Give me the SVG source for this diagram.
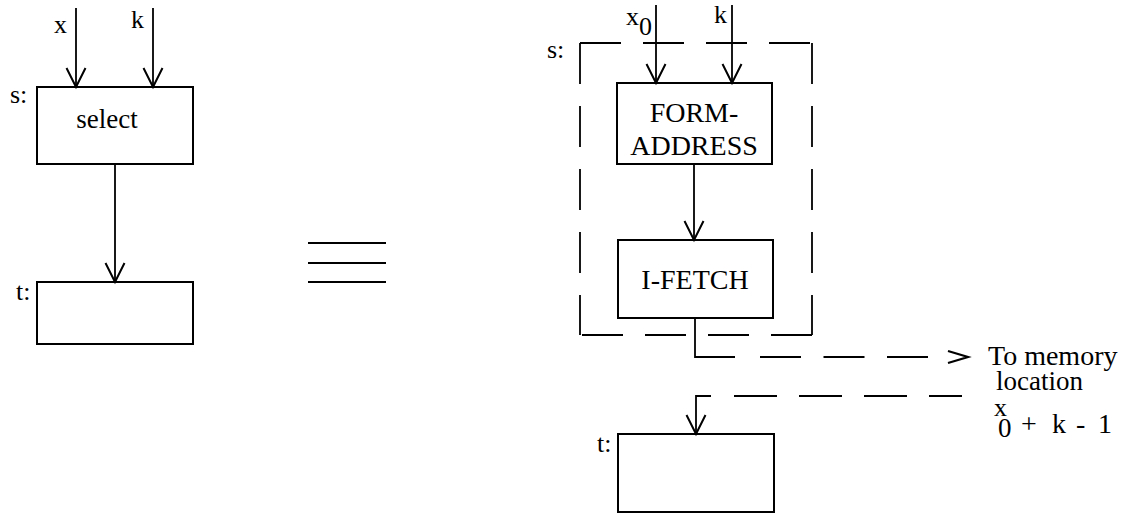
<svg xmlns="http://www.w3.org/2000/svg" width="1132" height="517" viewBox="0 0 1132 517">
<style>
.box{fill:none;stroke:#000;stroke-width:2}
.ln{fill:none;stroke:#000;stroke-width:1.8}
.dash{fill:none;stroke:#000;stroke-width:1.8;stroke-dasharray:41 22}
.t{font-family:"Liberation Serif","Times New Roman",serif;fill:#000}
</style>
<defs>
<marker id="v" markerUnits="userSpaceOnUse" markerWidth="26" markerHeight="26" viewBox="-22 -13 26 26" refX="0" refY="0" orient="auto">
<path d="M-19,-9.5 L0,0 L-19,9.5" fill="none" stroke="#000" stroke-width="2"/>
</marker>
<marker id="v2" markerUnits="userSpaceOnUse" markerWidth="26" markerHeight="26" viewBox="-22 -13 26 26" refX="0" refY="0" orient="auto">
<path d="M-20,-6 L0,0 L-20,6" fill="none" stroke="#000" stroke-width="2.2"/>
</marker>
</defs>
<rect width="1132" height="517" fill="#fff"/>

<g id="left-select">
<rect class="box" x="37" y="87" width="156" height="77"/>
<text class="t" x="10" y="103" font-size="26">s:</text>
<text class="t" x="107" y="128" font-size="27" text-anchor="middle">select</text>
</g>
<g id="left-t">
<rect class="box" x="37" y="282" width="156" height="62"/>
<text class="t" x="16" y="300" font-size="26">t:</text>
</g>
<g id="labels-left">
<text class="t" x="54" y="33" font-size="26">x</text>
<text class="t" x="131" y="28" font-size="26">k</text>
</g>

<g id="equiv">
<line class="box" x1="308" y1="243" x2="386" y2="243"/>
<line class="box" x1="308" y1="263" x2="386" y2="263"/>
<line class="box" x1="308" y1="282" x2="386" y2="282"/>
</g>

<g id="s-dashed">
<path class="dash" d="M580,43 H812"/>
<path class="dash" d="M812,43 V335"/>
<path class="dash" d="M812,335 H580"/>
<path class="dash" d="M580,43 V335"/>
<text class="t" x="547" y="58" font-size="26">s:</text>
</g>
<g id="form-address">
<rect class="box" x="617" y="83" width="155" height="81"/>
<text class="t" x="694" y="122" font-size="28" text-anchor="middle">FORM-</text>
<text class="t" x="694" y="155" font-size="28" text-anchor="middle">ADDRESS</text>
</g>
<g id="i-fetch">
<rect class="box" x="618" y="240" width="155" height="78"/>
<text class="t" x="695" y="289" font-size="28" text-anchor="middle">I-FETCH</text>
</g>
<g id="right-t">
<rect class="box" x="618" y="434" width="156" height="78"/>
<text class="t" x="597" y="452" font-size="26">t:</text>
</g>
<g id="labels-right">
<text class="t" x="626" y="25" font-size="26">x<tspan dy="10">0</tspan></text>
<text class="t" x="714" y="23" font-size="26">k</text>
<text class="t" font-size="27"><tspan x="988" y="365" font-size="28">To memory</tspan><tspan x="996" y="390">location</tspan></text>
<text class="t" font-size="28"><tspan x="994" y="416" font-size="26">x</tspan><tspan x="998" y="437" font-size="27">0</tspan><tspan x="1021" y="433">+</tspan><tspan x="1052" y="433">k</tspan><tspan x="1076" y="433">-</tspan><tspan x="1098" y="433">1</tspan></text>
</g>

<g id="connectors">
<path class="ln" d="M76,8 V87" marker-end="url(#v)"/>
<path class="ln" d="M153,8 V87" marker-end="url(#v)"/>
<path class="ln" d="M115,164 V282" marker-end="url(#v)"/>
<path class="ln" d="M656,5 V83" marker-end="url(#v)"/>
<path class="ln" d="M732,5 V83" marker-end="url(#v)"/>
<path class="ln" d="M694,164 V240" marker-end="url(#v)"/>
<path class="ln" d="M695,318 V357 H735"/>
<path class="ln" d="M760,357 H929" style="stroke-dasharray:41 22.5"/>
<path class="ln" d="M950,357 H968" style="stroke:none" marker-end="url(#v2)"/>
<path class="ln" d="M734,396 H962" style="stroke-dasharray:43 22"/>
<path class="ln" d="M711,396 H696 V434" marker-end="url(#v)"/>
</g>
</svg>
